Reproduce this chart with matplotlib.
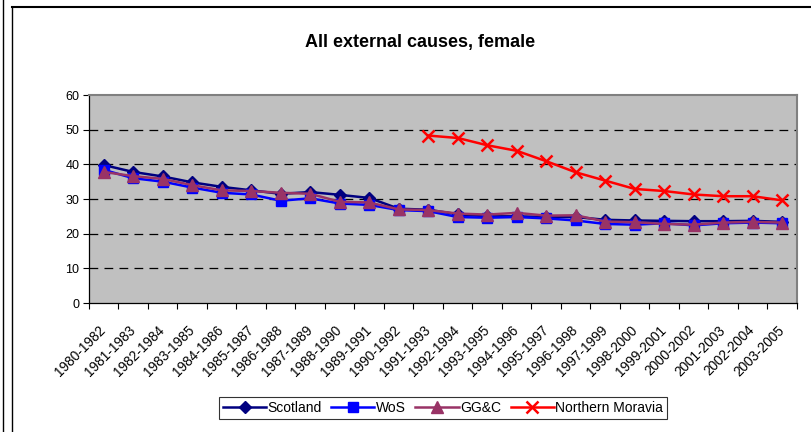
import numpy as np
import matplotlib
matplotlib.use("Agg")
import matplotlib.pyplot as plt
from matplotlib.lines import Line2D
from matplotlib.transforms import ScaledTranslation

plt.rcParams['font.family'] = ['Liberation Sans', 'DejaVu Sans']

periods = ["1980-1982", "1981-1983", "1982-1984", "1983-1985", "1984-1986", "1985-1987",
           "1986-1988", "1987-1989", "1988-1990", "1989-1991", "1990-1992", "1991-1993",
           "1992-1994", "1993-1995", "1994-1996", "1995-1997", "1996-1998", "1997-1999",
           "1998-2000", "1999-2001", "2000-2002", "2001-2003", "2002-2004", "2003-2005"]

scotland = [39.8, 37.8, 36.5, 34.8, 33.5, 32.5, 31.5, 32.0, 31.2, 30.3, 27.2, 26.9,
            25.6, 25.0, 25.0, 24.8, 24.8, 24.0, 23.8, 23.7, 23.6, 23.6, 23.7, 23.4]
wos = [38.4, 36.0, 35.0, 33.3, 31.8, 31.3, 29.5, 30.2, 28.7, 28.3, 26.8, 26.5,
       24.8, 24.6, 24.8, 24.4, 23.8, 22.8, 22.6, 23.0, 22.4, 23.0, 23.2, 23.0]
ggc = [37.8, 36.6, 35.8, 34.0, 32.5, 32.3, 31.8, 31.5, 29.2, 29.0, 27.0, 26.8,
       25.8, 25.5, 26.0, 25.2, 25.3, 23.5, 23.3, 22.8, 22.6, 23.2, 23.4, 23.2]
moravia = [np.nan] * 11 + [48.3, 47.6, 45.5, 43.9, 40.9, 37.7, 35.3, 32.9, 32.3,
                           31.3, 30.8, 30.8, 29.6]

title = "All external causes, female"
yticks = [0, 10, 20, 30, 40, 50, 60]

fig = plt.figure(figsize=(8.12, 4.32), dpi=100)
ax = fig.add_axes([89/812, 1-303/432, (797-89)/812, (303-95)/432])
ax.set_facecolor('#C0C0C0')

x = np.arange(len(periods))
ax.plot(x, scotland, color='#000080', lw=1.8, marker='D', ms=6.5, label='Scotland', zorder=3)
ax.plot(x, wos, color='#0000FF', lw=1.8, marker='s', ms=7, label='WoS', zorder=4)
ax.plot(x, ggc, color='#993366', lw=1.8, marker='^', ms=8.5, label='GG&C', zorder=5)
ax.plot(x, moravia, color='#FF0000', lw=1.8, marker='x', ms=9, mew=1.8,
        label='Northern Moravia', zorder=6)

ax.set_xlim(-0.5, len(periods) - 0.5)
ax.set_ylim(0, 60)
ax.set_yticks(yticks)
ax.set_yticklabels([str(v) for v in yticks], fontsize=9)
for v in yticks[1:-1]:
    ax.axhline(v, color='black', lw=0.9, ls=(0, (7, 5)), zorder=1)

ax.set_xticks(x)
ax.set_xticklabels(periods, rotation=45, ha='right', va='top', rotation_mode='anchor', fontsize=9.8)
ax.tick_params(axis='x', which='major', length=0, pad=0)
shift = ScaledTranslation(-5/100, -20/100, fig.dpi_scale_trans)
for lbl in ax.get_xticklabels():
    lbl.set_transform(lbl.get_transform() + shift)
ax.set_xticks(np.arange(len(periods) + 1) - 0.5, minor=True)
ax.tick_params(axis='x', which='minor', length=4, direction='out', width=0.8, color='black')
ax.tick_params(axis='y', length=4, direction='out', width=0.8, pad=3)

for s in ['top', 'right']:
    ax.spines[s].set_color('#808080')
    ax.spines[s].set_linewidth(1.5)
for s in ['left', 'bottom']:
    ax.spines[s].set_color('black')
    ax.spines[s].set_linewidth(0.9)

fig.text(420/812, 1-42/432, title, ha='center', va='center', fontsize=13, fontweight='bold')

leg = fig.legend(loc='center', bbox_to_anchor=(443/812, 1-408/432), ncol=4, fontsize=10,
                 frameon=True, fancybox=False, edgecolor='black', borderpad=0.3,
                 handlelength=3.1, handletextpad=0.1, columnspacing=0.7, borderaxespad=0)
leg.get_frame().set_linewidth(0.8)

# outer frames
fig.add_artist(Line2D([3.5/812, 3.5/812], [0, 1], transform=fig.transFigure, color='black', lw=1))
fig.add_artist(Line2D([12.5/812, 12.5/812], [0, 1-7/432], transform=fig.transFigure, color='black', lw=1))
fig.add_artist(Line2D([12.5/812, 1], [1-7/432, 1-7/432], transform=fig.transFigure, color='black', lw=1.5))

fig.savefig('out.png', dpi=100)
